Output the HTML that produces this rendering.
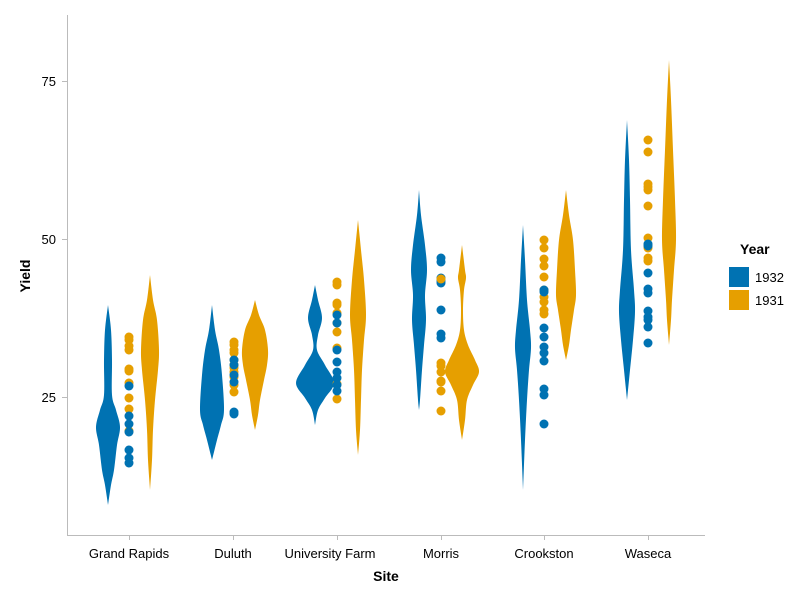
<!DOCTYPE html>
<html><head><meta charset="utf-8"><style>
body{margin:0;background:#fff}
svg text{font-family:"Liberation Sans",sans-serif;fill:#000}
</style></head><body>
<svg id="s" width="800" height="600" xmlns="http://www.w3.org/2000/svg">
<g stroke="#bbb" stroke-width="1" fill="none">
<line x1="67.5" y1="15" x2="67.5" y2="535"/>
<line x1="67" y1="535.5" x2="705" y2="535.5"/>
<line x1="62" y1="81.5" x2="67" y2="81.5"/>
<line x1="62" y1="239.5" x2="67" y2="239.5"/>
<line x1="62" y1="397.5" x2="67" y2="397.5"/>
<line x1="129.5" y1="535" x2="129.5" y2="540"/>
<line x1="233.5" y1="535" x2="233.5" y2="540"/>
<line x1="337.5" y1="535" x2="337.5" y2="540"/>
<line x1="441.5" y1="535" x2="441.5" y2="540"/>
<line x1="544.5" y1="535" x2="544.5" y2="540"/>
<line x1="648.5" y1="535" x2="648.5" y2="540"/>
</g>
<g font-size="13" text-anchor="end">
<text x="56" y="86">75</text><text x="56" y="244">50</text><text x="56" y="402">25</text>
</g>
<g font-size="13" text-anchor="middle">
<text x="129" y="558">Grand Rapids</text><text x="233" y="558">Duluth</text>
<text x="330" y="558">University Farm</text><text x="441" y="558">Morris</text>
<text x="544" y="558">Crookston</text><text x="648" y="558">Waseca</text>
<text x="386" y="581" font-weight="bold" font-size="14">Site</text>
</g>
<text transform="translate(30,276) rotate(-90)" text-anchor="middle" font-size="14" font-weight="bold">Yield</text>
<text x="740" y="254" font-size="14" font-weight="bold">Year</text>
<rect x="729" y="267" width="20" height="20" fill="#0072b2"/>
<rect x="729" y="290" width="20" height="20" fill="#e69f00"/>
<text x="755" y="282" font-size="13">1932</text>
<text x="755" y="305" font-size="13">1931</text>
<g id="v"></g><g id="d"></g>
</svg>
<script>
var B="#0072b2",O="#e69f00";
var V=[
[108,B,[[305,0],[330,3],[360,4],[395,4],[410,8],[427,12],[445,9],[470,6],[485,3],[505,0]]],
[150,O,[[275,0],[300,3],[320,7],[350,9],[370,8],[400,5],[430,3],[460,2],[490,0]]],
[212,B,[[305,0],[330,3],[350,7],[375,10],[410,12],[425,9],[440,5],[460,0]]],
[255,O,[[300,0],[315,4],[330,10],[350,13],[365,12],[380,9],[400,5],[415,3],[430,0]]],
[315,B,[[285,0],[300,3],[318,7],[335,3],[350,2],[365,10],[383,19],[398,10],[410,3],[425,0]]],
[358,O,[[220,0],[250,3],[280,6],[315,8],[340,6],[370,4],[400,3],[430,2],[455,0]]],
[419,B,[[190,0],[215,2],[245,6],[270,8],[295,6],[320,7],[345,5],[370,3],[400,1],[410,0]]],
[462,O,[[245,0],[270,3],[278,4],[290,2],[310,1],[330,2],[345,6],[360,13],[372,17],[385,11],[400,5],[420,3],[440,0]]],
[523,B,[[225,0],[260,2],[300,4],[330,7],[348,8],[370,6],[400,4],[440,2],[490,0]]],
[566,O,[[190,0],[215,3],[240,7],[270,9],[295,10],[310,8],[330,5],[345,3],[360,0]]],
[627,B,[[120,0],[160,2],[200,3],[250,4],[290,7],[312,8],[340,6],[370,3],[400,0]]],
[669,O,[[60,0],[100,2],[150,4],[200,6],[240,7],[270,5],[300,3],[320,2],[345,0]]]];
function interp(p){var out=[];for(var i=0;i<p.length-1;i++){var p0=p[Math.max(i-1,0)],p1=p[i],p2=p[i+1],p3=p[Math.min(i+2,p.length-1)];
for(var t=0;t<1;t+=0.1){var t2=t*t,t3=t2*t;
var y=0.5*(2*p1[0]+(-p0[0]+p2[0])*t+(2*p0[0]-5*p1[0]+4*p2[0]-p3[0])*t2+(-p0[0]+3*p1[0]-3*p2[0]+p3[0])*t3);
var w=0.5*(2*p1[1]+(-p0[1]+p2[1])*t+(2*p0[1]-5*p1[1]+4*p2[1]-p3[1])*t2+(-p0[1]+3*p1[1]-3*p2[1]+p3[1])*t3);
out.push([y,Math.max(w,0)]);}}out.push(p[p.length-1]);return out;}
var h="";
V.forEach(function(v){var c=v[0],p=interp(v[2]);var L=[],R=[];
for(var i=0;i<p.length;i++){L.push((c-p[i][1]).toFixed(2)+","+p[i][0].toFixed(2));R.unshift((c+p[i][1]).toFixed(2)+","+p[i][0].toFixed(2));}
h+='<polygon fill="'+v[1]+'" points="'+L.concat(R).join(" ")+'"/>';});
document.getElementById("v").innerHTML=h;
var D=[
[129,O,[337,340,346,350,369,371,383,398,409,431]],[129,B,[386,416,424,432,450,458,463]],
[234,O,[342,345,350,353,360,365,368,372,377,385,392]],[234,B,[360,365,375,382,412,414]],
[337,O,[282,285,303,305,313,323,332,348,384,399]],[337,B,[315,323,350,362,372,378,385,391]],
[441,B,[258,262,278,281,283,310,334,338]],[441,O,[279,363,366,372,381,382,391,411]],
[544,O,[240,248,259,266,277,290,297,302,310,314]],[544,B,[290,292,328,337,347,353,361,389,395,424]],
[648,O,[140,152,184,187,190,206,238,245,248,258,261]],[648,B,[244,246,273,289,293,311,317,320,327,343]]];
h="";
D.forEach(function(d){d[2].forEach(function(y){h+='<circle cx="'+d[0]+'" cy="'+y+'" r="4.5" fill="'+d[1]+'"/>';});});
document.getElementById("d").innerHTML=h;
</script>
</body></html>
